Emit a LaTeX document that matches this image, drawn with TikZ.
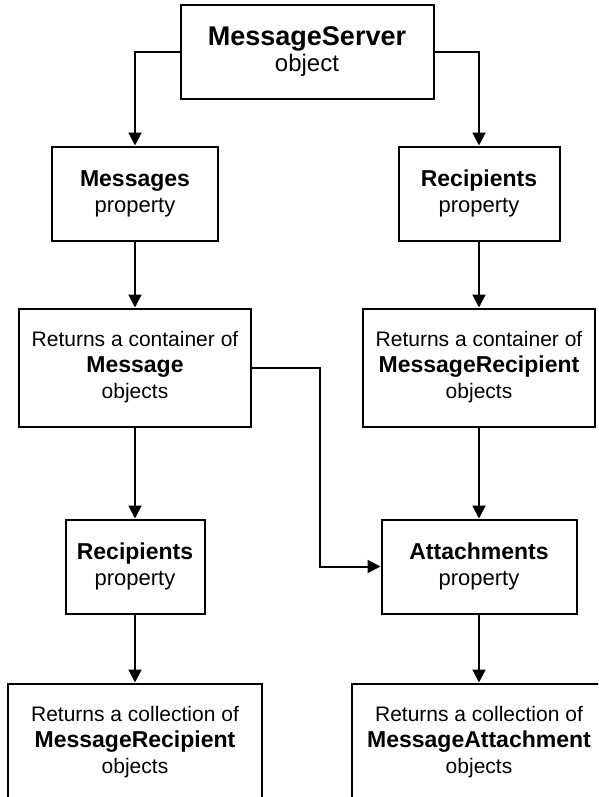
\documentclass[tikz,border=0pt]{standalone}
\usepackage{fontspec}
\setmainfont{Liberation Sans}
\usetikzlibrary{arrows.meta,positioning}
\tikzset{
  >={Triangle[length=13pt,width=13pt]},
  flow/.style={->,line width=2pt},
  base/.style={draw,line width=2pt,align=center,inner sep=4pt},
  objbox/.style={base,minimum width=253pt,minimum height=94pt,font=\fontsize{24}{26}\selectfont},
  propbox/.style={base,minimum height=94pt,font=\fontsize{22}{26}\selectfont},
  contbox/.style={base,minimum width=232pt,minimum height=118pt,font=\fontsize{21}{26}\selectfont},
  collbox/.style={base,minimum width=254pt,minimum height=118pt,font=\fontsize{21}{26}\selectfont}
}
\newcommand\objname[1]{{\fontsize{27}{26}\selectfont\bfseries #1}}
\newcommand\propname[1]{{\fontsize{23}{26}\selectfont\bfseries #1}}

\begin{document}
\begin{tikzpicture}[node distance=66pt]
  \useasboundingbox (0,0) rectangle (598pt,-797pt);
  \clip (0,0) rectangle (598pt,-797pt);
  \node[objbox] (server) at (307pt,-52pt) {\objname{MessageServer}\\object};
  \node[propbox,minimum width=166pt] (msgs) at (135pt,-193.5pt) {\propname{Messages}\\property};
  \node[propbox,minimum width=161pt] (rcpts) at (479pt,-193.5pt) {\propname{Recipients}\\property};
  \node[contbox,below=of msgs] (msgcont) {Returns a container of\\\propname{Message}\\objects};
  \node[contbox,below=of rcpts] (rcptcont) {Returns a container of\\\propname{MessageRecipient}\\objects};
  \node[propbox,minimum width=139pt,below=91pt of msgcont] (msgrcpts) {\propname{Recipients}\\property};
  \node[propbox,minimum width=195pt,below=91pt of rcptcont] (attach) {\propname{Attachments}\\property};
  \node[collbox,below=68pt of msgrcpts] (rcptcoll) {Returns a collection of\\\propname{MessageRecipient}\\objects};
  \node[collbox,below=68pt of attach] (attcoll) {Returns a collection of\\\propname{MessageAttachment}\\objects};
  \draw[flow] (server.west) -| (msgs.north);
  \draw[flow] (server.east) -| (rcpts.north);
  \draw[flow] (msgs) -- (msgcont);
  \draw[flow] (rcpts) -- (rcptcont);
  \draw[flow] (msgcont) -- (msgrcpts);
  \draw[flow] (rcptcont) -- (attach);
  \draw[flow] (msgcont.east) -- ++(68pt,0) |- (attach.west);
  \draw[flow] (msgrcpts) -- (rcptcoll);
  \draw[flow] (attach) -- (attcoll);
\end{tikzpicture}
\end{document}
